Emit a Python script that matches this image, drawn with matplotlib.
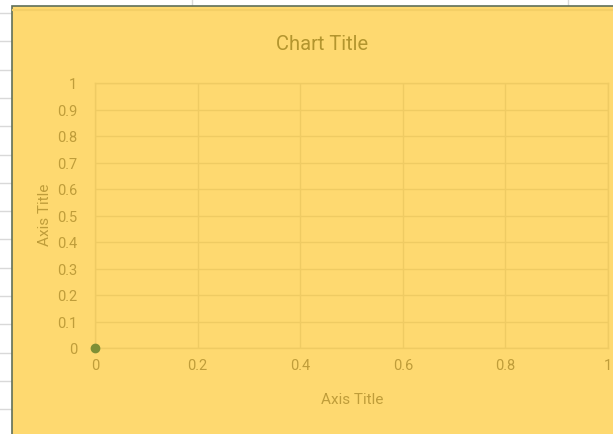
import matplotlib
matplotlib.use("Agg")
import matplotlib.pyplot as plt
from matplotlib.patches import Rectangle
from matplotlib import font_manager

# scatter series (one point at the origin)
xs = [0]
ys = [0]
x_ticks = [0, 0.2, 0.4, 0.6, 0.8, 1]
x_tick_labels = ["0", "0.2", "0.4", "0.6", "0.8", "1"]
y_ticks = [0, 0.1, 0.2, 0.3, 0.4, 0.5, 0.6, 0.7, 0.8, 0.9, 1]
y_tick_labels = ["0", "0.1", "0.2", "0.3", "0.4", "0.5", "0.6", "0.7", "0.8", "0.9", "1"]

names = {f.name for f in font_manager.fontManager.ttflist}
family = ["Liberation Sans Narrow", "DejaVu Sans"] if "Liberation Sans Narrow" in names else ["Roboto", "DejaVu Sans"]
plt.rcParams['font.family'] = family

W, H = 613, 435
bg = "#FED970"
grid_c = "#EFCB63"
text_c = "#BF9D3A"
title_c = "#B3952E"
point_c = "#7E8F35"

fig = plt.figure(figsize=(W / 100, H / 100), dpi=100)
fig.patch.set_facecolor("white")

# sheet cells behind the chart
sheet = fig.add_axes([0, 0, 1, 1])
sheet.set_xlim(0, W)
sheet.set_ylim(H, 0)
sheet.axis("off")
for y in range(14, H, 28):
    sheet.plot([0, W], [y + 0.3 * (y // 28), y + 0.3 * (y // 28)], color="#D9D9D9", lw=1)
for x in [192, 568]:
    sheet.plot([x, x], [0, H], color="#D9D9D9", lw=1)
sheet.add_patch(Rectangle((12, 7), W, H, facecolor=bg, edgecolor="#5F6F5A", lw=1.2, zorder=3))
sheet.plot([13, W], [11, 11], color="#F4CF66", lw=1.5, zorder=4)

def px(x0, y0, x1, y1):
    return [x0 / W, 1 - y1 / H, (x1 - x0) / W, (y1 - y0) / H]

ax = fig.add_axes(px(95, 84, 608, 349))
ax.set_facecolor("none")
ax.set_xlim(0, 1)
ax.set_ylim(0, 1)
ax.set_xticks(x_ticks, x_tick_labels)
ax.set_yticks(y_ticks, y_tick_labels)
ax.tick_params(length=0, colors=text_c, labelsize=10.5)
ax.tick_params(axis="x", pad=7)
ax.tick_params(axis="y", pad=13)
ax.grid(True, color=grid_c, lw=1)
for s in ax.spines.values():
    s.set_color(grid_c)
    s.set_linewidth(1)
ax.scatter(xs, ys, s=36, color=point_c, zorder=5, clip_on=False)

fig.text(322 / W, 1 - 44 / H, "Chart Title", ha="center", va="center", color=title_c, fontsize=14.5)
fig.text(352 / W, 1 - 400 / H, "Axis Title", ha="center", va="center", color=text_c, fontsize=11)
fig.text(45 / W, 1 - 215 / H, "Axis Title", ha="center", va="center", color=text_c, fontsize=11, rotation=90)

fig.savefig("out.png", dpi=100)
